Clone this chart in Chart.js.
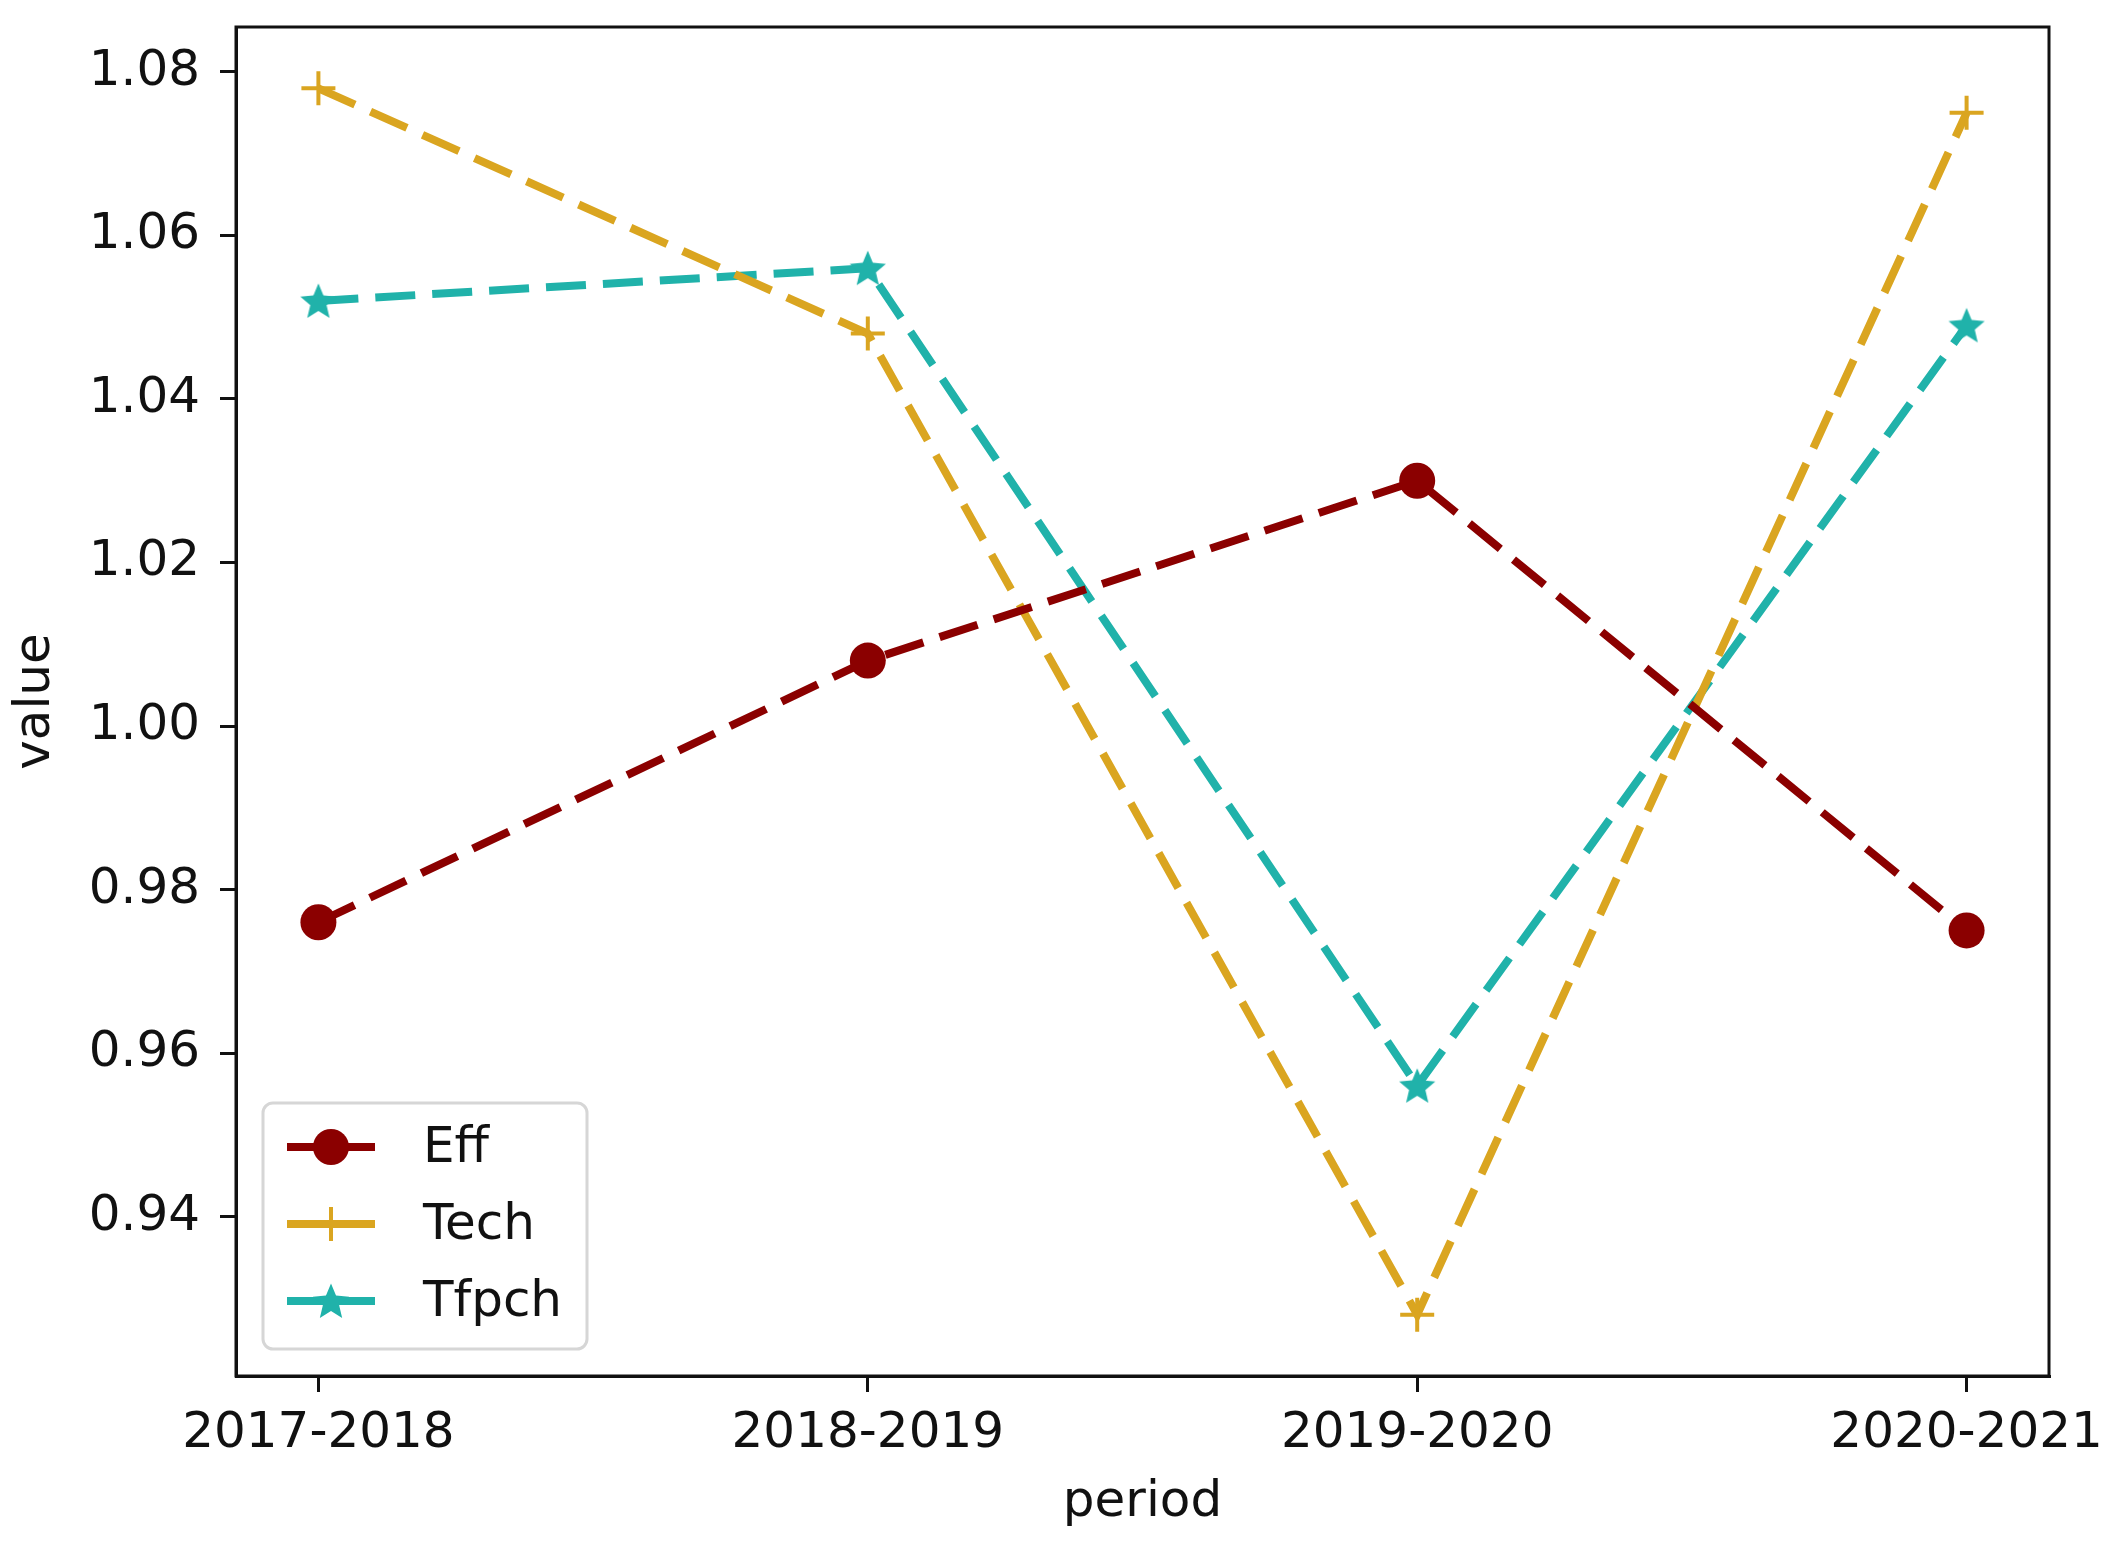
<!DOCTYPE html>
<html>
<head>
<meta charset="utf-8">
<script src="https://cdn.jsdelivr.net/npm/chart.js@4"></script>
<style>
  html, body { margin: 0; padding: 0; background: #fff; }
  #wrap { width: 2115px; height: 1551px; }
</style>
</head>
<body>
<div id="wrap"><canvas id="chart"></canvas></div>
<script>
// data
const periods = ['2017-2018', '2018-2019', '2019-2020', '2020-2021'];
const effValues = [0.976, 1.008, 1.030, 0.975];
const techValues = [1.078, 1.048, 0.928, 1.075];
const tfpchValues = [1.052, 1.056, 0.956, 1.049];
const yTicks = [0.94, 0.96, 0.98, 1.00, 1.02, 1.04, 1.06, 1.08];

const seriesNames = ['Eff', 'Tech', 'Tfpch'];
const seriesColors = ['#8B0000', '#DAA520', '#20B2AA'];

const FONT = 'DejaVu Sans';
const TEXT_SIZE = 50;
const LINE_W = 8;

// filled star like matplotlib '*'
function makeStar(size, color) {
  const c = document.createElement('canvas');
  c.width = size;
  c.height = size;
  const ctx = c.getContext('2d');
  const cx = size / 2, cy = size / 2 + size * 0.04;
  const outer = size / 2, inner = outer * 0.45;
  ctx.beginPath();
  for (let i = 0; i < 10; i++) {
    const r = i % 2 === 0 ? outer : inner;
    const a = -Math.PI / 2 + i * Math.PI / 5;
    const px = cx + r * Math.cos(a);
    const py = cy + r * Math.sin(a);
    if (i === 0) ctx.moveTo(px, py); else ctx.lineTo(px, py);
  }
  ctx.closePath();
  ctx.fillStyle = color;
  ctx.fill();
  return c;
}

const starImg = makeStar(38, seriesColors[2]);

function toPoints(values) {
  return values.map((v, i) => ({ x: i, y: v }));
}

// box around the plot area
const framePlugin = {
  id: 'frame',
  afterDatasetsDraw(chart) {
    const { ctx, chartArea: a } = chart;
    ctx.save();
    ctx.strokeStyle = '#111';
    ctx.lineWidth = 3;
    ctx.strokeRect(a.left, a.top, a.right - a.left, a.bottom - a.top);
    ctx.restore();
  }
};

// legend inside lower left corner
const legendPlugin = {
  id: 'innerLegend',
  afterDraw(chart) {
    const { ctx, chartArea: a } = chart;
    const boxW = 324, boxH = 246;
    const x0 = a.left + 27;
    const y0 = a.bottom - 27 - boxH;
    ctx.save();
    ctx.beginPath();
    ctx.roundRect(x0, y0, boxW, boxH, 10);
    ctx.fillStyle = 'rgba(255,255,255,0.8)';
    ctx.fill();
    ctx.strokeStyle = '#d6d6d6';
    ctx.lineWidth = 3;
    ctx.stroke();

    chart.data.datasets.forEach((ds, i) => {
      const cy = y0 + 44 + i * 77;
      const lx = x0 + 24;
      const mx = lx + 44;
      ctx.strokeStyle = ds.borderColor;
      ctx.lineWidth = LINE_W;
      ctx.setLineDash([]);
      ctx.beginPath();
      ctx.moveTo(lx, cy);
      ctx.lineTo(lx + 88, cy);
      ctx.stroke();
      if (i === 0) {
        ctx.fillStyle = ds.borderColor;
        ctx.beginPath();
        ctx.arc(mx, cy, 18, 0, Math.PI * 2);
        ctx.fill();
      } else if (i === 1) {
        ctx.lineWidth = 4;
        ctx.beginPath();
        ctx.moveTo(mx, cy - 17);
        ctx.lineTo(mx, cy + 17);
        ctx.stroke();
      } else {
        ctx.drawImage(starImg, mx - 19, cy - 19);
      }
      ctx.fillStyle = '#111';
      ctx.font = `${TEXT_SIZE}px "${FONT}"`;
      ctx.textBaseline = 'middle';
      ctx.textAlign = 'left';
      ctx.fillText(ds.label, x0 + 160, cy + 2);
    });
    ctx.restore();
  }
};

const tickFont = { family: FONT, size: TEXT_SIZE };

new Chart(document.getElementById('chart'), {
  type: 'line',
  data: {
    datasets: [
      {
        label: seriesNames[0],
        data: toPoints(effValues),
        borderColor: seriesColors[0],
        backgroundColor: seriesColors[0],
        borderWidth: LINE_W,
        borderDash: [40, 17],
        pointStyle: 'circle',
        pointRadius: 18,
        pointBorderWidth: 0,
        pointBackgroundColor: seriesColors[0]
      },
      {
        label: seriesNames[1],
        data: toPoints(techValues),
        borderColor: seriesColors[1],
        backgroundColor: seriesColors[1],
        borderWidth: LINE_W,
        borderDash: [40, 17],
        pointStyle: 'cross',
        pointRadius: 17,
        pointBorderWidth: 4,
        pointBorderColor: seriesColors[1]
      },
      {
        label: seriesNames[2],
        data: toPoints(tfpchValues),
        borderColor: seriesColors[2],
        backgroundColor: seriesColors[2],
        borderWidth: LINE_W,
        borderDash: [40, 17],
        pointStyle: starImg,
        pointRadius: 19
      }
    ]
  },
  options: {
    responsive: true,
    maintainAspectRatio: false,
    devicePixelRatio: 1,
    animation: false,
    layout: { padding: { top: 24, right: 66, left: 0, bottom: 0 } },
    plugins: {
      legend: { display: false },
      tooltip: { enabled: false }
    },
    scales: {
      x: {
        type: 'linear',
        min: -0.15,
        max: 3.15,
        afterBuildTicks: axis => { axis.ticks = periods.map((p, i) => ({ value: i })); },
        afterFit: axis => {
          axis.height = 175;
          axis.paddingLeft = 0;
          axis.paddingRight = 0;
        },
        ticks: {
          callback: v => periods[v],
          font: tickFont,
          color: '#111',
          padding: 12,
          maxRotation: 0,
          autoSkip: false
        },
        grid: {
          drawOnChartArea: false,
          drawTicks: true,
          tickLength: 16,
          color: '#111',
          lineWidth: 3
        },
        border: { display: true, color: '#111', width: 3 },
        title: {
          display: true,
          text: 'period',
          font: tickFont,
          color: '#111',
          padding: { top: 0, bottom: 18 }
        }
      },
      y: {
        type: 'linear',
        min: 0.9205,
        max: 1.0855,
        afterBuildTicks: axis => { axis.ticks = yTicks.map(v => ({ value: v })); },
        afterFit: axis => {
          axis.width = 236;
          axis.paddingTop = 0;
          axis.paddingBottom = 0;
        },
        ticks: {
          callback: v => v.toFixed(2),
          font: tickFont,
          color: '#111',
          padding: 20
        },
        grid: {
          drawOnChartArea: false,
          drawTicks: true,
          tickLength: 16,
          color: '#111',
          lineWidth: 3
        },
        border: { display: true, color: '#111', width: 3 },
        title: {
          display: true,
          text: 'value',
          font: tickFont,
          color: '#111',
          padding: { top: 6, bottom: 0 }
        }
      }
    }
  },
  plugins: [framePlugin, legendPlugin]
});
</script>
</body>
</html>
